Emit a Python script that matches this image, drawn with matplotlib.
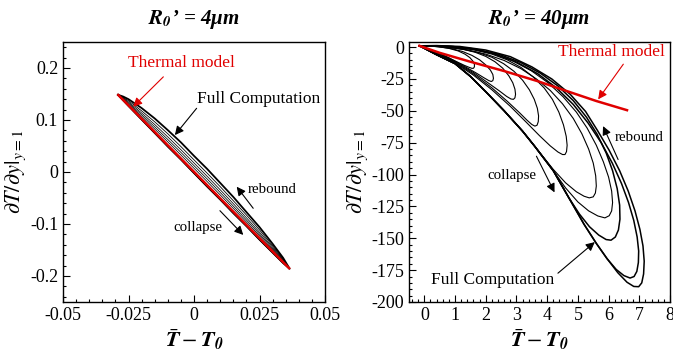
import matplotlib
matplotlib.use("Agg")
import matplotlib.pyplot as plt
from matplotlib.ticker import FixedLocator, FixedFormatter, MultipleLocator

plt.rcParams['font.family'] = ['Liberation Serif', 'DejaVu Serif']
plt.rcParams['mathtext.fontset'] = 'stix'

# ---------------- Left panel data (R0' = 4 um) ----------------
left_red_x = [-0.0289, 0.0363]
left_red_y = [0.148, -0.185]

left_up_x = [-0.029, -0.027, -0.025, -0.02, -0.015, -0.01, -0.005, 0.0, 0.005, 0.01, 0.015, 0.02, 0.025, 0.03, 0.034, 0.0365]
left_low_x = [0.0365, 0.034, 0.03, 0.025, 0.02, 0.015, 0.01, 0.005, 0.0, -0.005, -0.01, -0.015, -0.02, -0.025, -0.029]
left_low_y = [-0.186, -0.175, -0.155, -0.130, -0.104, -0.079, -0.053, -0.028, -0.002, 0.024, 0.049, 0.075, 0.101, 0.127, 0.1485]

left_loop1_up_y = [0.1485, 0.145, 0.140, 0.123, 0.103, 0.0805, 0.057, 0.031, 0.006, -0.021, -0.048, -0.077, -0.106, -0.138, -0.165, -0.186]
left_loop2_up_y = [0.1485, 0.1433, 0.1371, 0.1176, 0.0965, 0.0735, 0.0489, 0.0234, -0.0021, -0.0282, -0.0552, -0.0827, -0.1113, -0.1418, -0.1672, -0.186]
left_loop3_up_y = [0.1485, 0.1423, 0.1347, 0.1136, 0.0913, 0.0675, 0.0429, 0.0174, -0.0081, -0.0342, -0.0608, -0.0879, -0.1157, -0.1445, -0.1688, -0.186]
left_loop4_up_y = [0.1485, 0.141, 0.1327, 0.1102, 0.0869, 0.0625, 0.0377, 0.0122, -0.0133, -0.0393, -0.0656, -0.0922, -0.1193, -0.1471, -0.1702, -0.186]
left_loop5_up_y = [0.1485, 0.1398, 0.1307, 0.107, 0.0827, 0.0579, 0.0327, 0.0072, -0.0183, -0.0441, -0.07, -0.0962, -0.1227, -0.1495, -0.1714, -0.186]

left_xticks = [-0.05, -0.025, 0, 0.025, 0.05]
left_xticklabels = ['-0.05', '-0.025', '0', '0.025', '0.05']
left_yticks = [-0.2, -0.1, 0, 0.1, 0.2]
left_yticklabels = ['-0.2', '-0.1', '0', '0.1', '0.2']

# ---------------- Right panel data (R0' = 40 um) ----------------
right_red_x = [-0.16, 0.5, 1.5, 2.6, 3.7, 4.7, 5.6, 6.6]
right_red_y = [1, -4.5, -11.5, -18.8, -26.8, -35, -42.3, -49.5]

r_loop1_x = [-0.16, 0.2, 0.5, 0.8, 1.1, 1.3, 1.45, 1.55, 1.6, 1.63, 1.63, 1.58, 1.48, 1.32, 1.1, 0.8, 0.45, 0.1, -0.16]
r_loop1_y = [1, -2, -5, -8.5, -12, -14.3, -15.8, -16.7, -16.6, -15.5, -13.5, -11, -8.2, -5.5, -3, -1, 0.3, 0.9, 1]
r_loop2_x = [-0.16, 0.3, 0.8, 1.3, 1.7, 1.95, 2.1, 2.18, 2.23, 2.25, 2.23, 2.15, 2.0, 1.8, 1.55, 1.25, 0.9, 0.5, 0.1, -0.16]
r_loop2_y = [1, -3, -8.5, -15, -20.5, -24.2, -26.3, -27, -26.3, -24.5, -21.5, -18, -14, -10, -6.5, -3.5, -1.3, 0.2, 0.9, 1]
r_loop3_x = [-0.16, 0.4, 1.0, 1.6, 2.1, 2.45, 2.68, 2.82, 2.9, 2.95, 2.97, 2.95, 2.88, 2.75, 2.55, 2.3, 2.0, 1.65, 1.25, 0.8, 0.3, -0.16]
r_loop3_y = [1, -4.5, -11.5, -20, -28.5, -34.5, -38.7, -40.7, -41, -39.8, -37, -33, -28, -22.5, -16.5, -11.5, -7.3, -4, -1.7, -0.1, 0.8, 1]
r_loop4_x = [-0.16, 0.4, 1.0, 1.6, 2.2, 2.7, 3.1, 3.35, 3.5, 3.6, 3.67, 3.71, 3.72, 3.68, 3.58, 3.42, 3.2, 2.92, 2.58, 2.2, 1.75, 1.25, 0.7, 0.2, -0.16]
r_loop4_y = [1, -5, -12, -21, -32, -42.5, -51.5, -57.5, -60.7, -62, -61.3, -58.5, -54, -48, -41, -33.5, -26, -19, -13, -8, -4.2, -1.6, 0, 0.8, 1]
r_loop5_x = [-0.16, 0.4, 1.0, 1.6, 2.2, 2.8, 3.3, 3.75, 4.1, 4.35, 4.5, 4.58, 4.63, 4.65, 4.62, 4.53, 4.38, 4.17, 3.9, 3.55, 3.15, 2.7, 2.2, 1.65, 1.05, 0.45, -0.16]
r_loop5_y = [1, -5.5, -12.5, -22, -33.5, -46.5, -58.5, -69.5, -77.5, -82.3, -84.3, -84.3, -82, -77, -70, -61, -51, -41, -32, -23.5, -16, -10, -5.5, -2.3, -0.2, 0.8, 1]
r_loop6_x = [-0.16, 0.4, 1.0, 1.5, 2.0, 2.6, 3.2, 3.7, 4.2, 4.6, 4.95, 5.2, 5.37, 5.5, 5.57, 5.6, 5.58, 5.5, 5.35, 5.13, 4.85, 4.5, 4.1, 3.65, 3.15, 2.6, 2.0, 1.35, 0.7, 0.1, -0.16]
r_loop6_y = [1, -6, -13, -23, -35, -50, -66, -81, -96, -106.5, -113.5, -117, -118.3, -117.5, -114.5, -109, -101, -91, -80, -68, -56, -44.5, -34, -25, -17, -10.5, -5.5, -2, 0.2, 1, 1]
r_loop7_x = [-0.16, 0.4, 1.0, 1.5, 2.0, 2.6, 3.2, 3.6, 4.2, 4.6, 5.0, 5.35, 5.65, 5.88, 6.02, 6.1, 6.13, 6.1, 6.0, 5.83, 5.6, 5.3, 4.95, 4.52, 4.03, 3.48, 2.85, 2.2, 1.5, 0.8, 0.1, -0.16]
r_loop7_y = [1, -6, -13, -23, -35, -50, -66, -78, -97, -110.5, -121.5, -128.5, -132.5, -134, -132.3, -128.5, -122, -113, -102, -90, -77, -63.5, -51, -39, -28, -18.5, -10.5, -5, -1.5, 0.5, 1, 1]
r_loop8_x = [-0.16, 0.4, 1.0, 1.5, 2.0, 2.6, 3.2, 3.6, 4.2, 4.7, 5.05, 5.38, 5.68, 5.92, 6.08, 6.22, 6.32, 6.37, 6.36, 6.28, 6.13, 5.92, 5.63, 5.28, 4.85, 4.35, 3.78, 3.13, 2.45, 1.7, 0.95, 0.2, -0.16]
r_loop8_y = [1, -6, -13, -23, -35, -50, -66, -78, -97, -118, -131, -141, -147.5, -151, -151.5, -149, -143.5, -135, -124, -111, -97, -83, -68.5, -55, -42, -30.5, -20.5, -12, -5.8, -1.8, 0.4, 1, 1]
r_loop9_x = [-0.16, 0.4, 1.0, 1.5, 2.0, 2.6, 3.2, 3.6, 4.2, 4.7, 5.2, 5.6, 5.95, 6.25, 6.5, 6.7, 6.83, 6.92, 6.97, 6.98, 6.93, 6.82, 6.65, 6.42, 6.12, 5.76, 5.33, 4.85, 4.3, 3.7, 3.02, 2.3, 1.55, 0.8, -0.16]
r_loop9_y = [1, -6, -13, -23, -35, -50, -66, -78, -97, -118, -139, -154, -166, -174.5, -179.3, -181.2, -180, -176, -169, -160, -149, -136, -122, -107, -91, -75, -59.5, -45, -32, -21, -12, -5.3, -1.2, 0.7, 1]
r_loop10_x = [-0.16, 0.4, 1.0, 1.5, 2.0, 2.6, 3.2, 3.6, 4.2, 4.7, 5.2, 5.6, 5.95, 6.3, 6.6, 6.82, 6.98, 7.08, 7.14, 7.16, 7.12, 7.02, 6.86, 6.64, 6.36, 6.02, 5.64, 5.25, 4.75, 4.15, 3.5, 2.8, 2.0, 1.15, 0.4, -0.16]
r_loop10_y = [1, -6, -13, -23, -35, -50, -66, -78, -97, -118, -139, -154, -166, -177, -184.5, -187.8, -188, -185, -178, -168, -156, -143, -128.5, -113, -97, -81, -65.5, -50.5, -37, -25, -15.5, -7.5, -2.3, 0.5, 1.2, 1]

right_xticks = [0, 1, 2, 3, 4, 5, 6, 7, 8]
right_xticklabels = ['0', '1', '2', '3', '4', '5', '6', '7', '8']
right_yticks = [-200, -175, -150, -125, -100, -75, -50, -25, 0]
right_yticklabels = ['-200', '-175', '-150', '-125', '-100', '-75', '-50', '-25', '0']

# ---------------- Figure ----------------
fig = plt.figure(figsize=(6.73, 3.58), dpi=100)
axL = fig.add_axes([63 / 673, 56 / 358, 262 / 673, 260 / 358])
axR = fig.add_axes([409 / 673, 56 / 358, 261 / 673, 260 / 358])

TICK_FS = 13
ARROW_K = dict(arrowstyle='-|>', color='black', lw=0.8, mutation_scale=13, shrinkA=0, shrinkB=0)
ARROW_R = dict(arrowstyle='-|>', color='#e00000', lw=0.8, mutation_scale=13, shrinkA=0, shrinkB=0)
RED = '#e00000'

# Left panel
for yy, lw in [(left_loop5_up_y, 0.55), (left_loop4_up_y, 0.55), (left_loop3_up_y, 0.55),
               (left_loop2_up_y, 0.6), (left_loop1_up_y, 1.3)]:
    axL.plot(left_up_x + left_low_x, yy + left_low_y, color='black', lw=lw, zorder=2)
axL.plot(left_red_x, left_red_y, color=RED, lw=1.8, zorder=3)

axL.set_xlim(-0.05, 0.05)
axL.set_ylim(-0.25, 0.25)
axL.xaxis.set_major_locator(FixedLocator(left_xticks))
axL.xaxis.set_major_formatter(FixedFormatter(left_xticklabels))
axL.yaxis.set_major_locator(FixedLocator(left_yticks))
axL.yaxis.set_major_formatter(FixedFormatter(left_yticklabels))
axL.xaxis.set_minor_locator(MultipleLocator(0.005))
axL.yaxis.set_minor_locator(MultipleLocator(0.02))

axL.text(-0.0048, 0.2096, 'Thermal model', color=RED, fontsize=12.5, ha='center', va='center')
axL.annotate('', xy=(-0.0232, 0.1256), xytext=(-0.0117, 0.183), arrowprops=ARROW_R)
axL.text(0.001, 0.140, 'Full Computation', color='black', fontsize=12.5, ha='left', va='center')
axL.annotate('', xy=(-0.0073, 0.071), xytext=(0.001, 0.1225), arrowprops=ARROW_K)
axL.text(0.0205, -0.0346, 'rebound', fontsize=10.7, ha='left', va='center')
axL.annotate('', xy=(0.0163, -0.0283), xytext=(0.0226, -0.0698), arrowprops=ARROW_K)
axL.text(0.0015, -0.106, 'collapse', fontsize=10.7, ha='center', va='center')
axL.annotate('', xy=(0.0188, -0.121), xytext=(0.0099, -0.0744), arrowprops=ARROW_K)

# Right panel
right_loops = [(r_loop1_x, r_loop1_y), (r_loop2_x, r_loop2_y), (r_loop3_x, r_loop3_y),
               (r_loop4_x, r_loop4_y), (r_loop5_x, r_loop5_y), (r_loop6_x, r_loop6_y),
               (r_loop7_x, r_loop7_y), (r_loop8_x, r_loop8_y), (r_loop9_x, r_loop9_y),
               (r_loop10_x, r_loop10_y)]
for i, (xx, yy) in enumerate(right_loops):
    axR.plot(xx, yy, color='black', lw=1.1 if i >= 7 else 0.8, zorder=2)
axR.plot(right_red_x, right_red_y, color=RED, lw=1.8, zorder=3)

axR.set_xlim(-0.5, 8)
axR.set_ylim(-200, 4)
axR.xaxis.set_major_locator(FixedLocator(right_xticks))
axR.xaxis.set_major_formatter(FixedFormatter(right_xticklabels))
axR.yaxis.set_major_locator(FixedLocator(right_yticks))
axR.yaxis.set_major_formatter(FixedFormatter(right_yticklabels))
axR.xaxis.set_minor_locator(MultipleLocator(0.2))
axR.yaxis.set_minor_locator(MultipleLocator(5))

axR.text(6.1, -4.2, 'Thermal model', color=RED, fontsize=12.5, ha='center', va='center')
axR.annotate('', xy=(5.66, -41), xytext=(6.48, -13.4), arrowprops=ARROW_R)
axR.text(6.2, -71, 'rebound', fontsize=10.7, ha='left', va='center')
axR.annotate('', xy=(5.82, -62), xytext=(6.31, -88.2), arrowprops=ARROW_K)
axR.text(2.84, -100.5, 'collapse', fontsize=10.7, ha='center', va='center')
axR.annotate('', xy=(4.24, -114), xytext=(3.65, -85.6), arrowprops=ARROW_K)
axR.text(0.22, -182.7, 'Full Computation', fontsize=12.5, ha='left', va='center')
axR.annotate('', xy=(5.55, -153), xytext=(4.35, -177.4), arrowprops=ARROW_K)

for ax, title in [(axL, "4μm"), (axR, "40μm")]:
    for s in ax.spines.values():
        s.set_linewidth(1.0)
    ax.tick_params(which='both', direction='in', top=False, right=False, labelsize=TICK_FS, width=0.8)
    ax.tick_params(which='major', length=5)
    ax.tick_params(which='minor', length=2.5)
    ax.set_xlabel(r'$\bar{\mathbfit{T}}-\mathbfit{T}_{\mathbfit{0}}$', fontsize=16, labelpad=2)
    ax.set_ylabel(r'$\partial T/\partial y|_{y=1}$', fontsize=16, labelpad=1)
    ax.set_title(r"$\mathbfit{R}_{\mathbfit{0}}$’ = " + title, fontsize=15, fontweight='bold',
                 fontstyle='italic', pad=13)

fig.savefig('out.png', dpi=100)
